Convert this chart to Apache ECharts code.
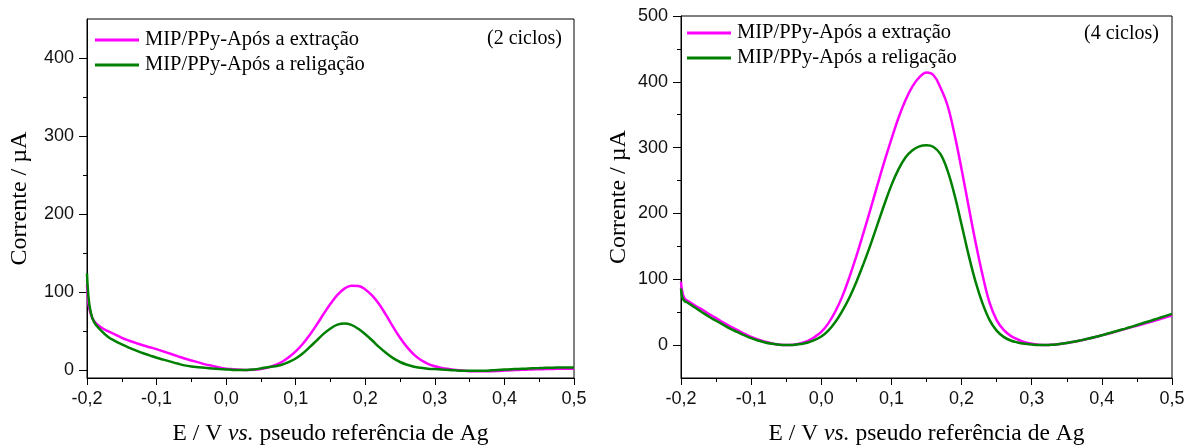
<!DOCTYPE html>
<html>
<head>
<meta charset="utf-8">
<title>Voltametria MIP/PPy</title>
<script src="https://cdn.jsdelivr.net/npm/echarts@6/dist/echarts.min.js"></script>
<style>
  html, body { margin: 0; padding: 0; background: #fff; }
  #chart { width: 1197px; height: 446px; }
</style>
</head>
<body>
<div id="chart"></div>
<script>
// Potential (V vs. Ag pseudo-reference), shared by every curve
const potential = [-0.2, -0.198, -0.195, -0.19, -0.18, -0.17, -0.16, -0.15, -0.14, -0.13, -0.12, -0.11, -0.10, -0.09, -0.08, -0.07, -0.06, -0.05, -0.04, -0.03, -0.02, -0.01,
  0.00, 0.01, 0.02, 0.03, 0.04, 0.05, 0.06, 0.07, 0.08, 0.09, 0.10, 0.11, 0.12, 0.13, 0.14, 0.15, 0.16, 0.17, 0.18, 0.19, 0.20, 0.21, 0.22, 0.23, 0.24, 0.25,
  0.26, 0.27, 0.28, 0.29, 0.30, 0.31, 0.32, 0.33, 0.34, 0.35, 0.36, 0.37, 0.38, 0.39, 0.40, 0.41, 0.42, 0.43, 0.44, 0.45, 0.46, 0.47, 0.48, 0.49, 0.50];

// Current (µA), 2 cycles
const extracao2 = [110, 86, 73, 63, 55, 50, 46, 41.5, 38, 35, 32, 29.5, 27, 24, 21, 18, 15, 12.5, 10, 7.5, 5.5, 3.5,
  2, 1.2, 0.6, 0.3, 0.5, 1.5, 3.3, 6.3, 10.5, 16.5, 24, 33.5, 45, 58, 72, 85, 96.5, 104.5, 108.3, 108, 103.5, 95.5, 84.5, 70.5, 55.5, 41.5,
  29.5, 20, 13, 8.2, 5, 2.9, 1.5, 0.4, -0.5, -1.2, -1.5, -1.5, -1.3, -1, -0.5, 0, 0.3, 0.6, 0.9, 1.2, 1.4, 1.6, 1.8, 1.9, 2];
const religacao2 = [124, 95, 76, 62, 51, 43, 37.5, 33, 29, 25.5, 22, 19, 16, 13.5, 11, 8.5, 6.2, 4.7, 3.8, 3, 2.3, 1.6,
  1, 0.4, 0.1, 0.2, 1, 2.3, 3.8, 5, 7, 10.5, 15, 21.5, 29.5, 38, 46.5, 53.5, 58.3, 59.8, 58, 53, 46, 38, 29.5, 22, 15.5, 10.5,
  7, 4.5, 3, 2, 1.4, 0.8, 0.3, -0.2, -0.6, -0.8, -0.8, -0.6, -0.2, 0.3, 0.8, 1.2, 1.6, 2, 2.4, 2.7, 3, 3.2, 3.4, 3.5, 3.5];

// Current (µA), 4 cycles
const extracao4 = [96, 80, 71, 67, 60, 54, 47, 41, 34.5, 28.5, 23, 17.5, 12.5, 8.5, 5, 2.5, 0.8, 0, 0.5, 2.5, 6, 12,
  20, 33, 51, 74, 103, 135, 170, 206, 243, 279, 313, 345, 372, 393, 407, 414, 410, 391, 364, 320, 267, 211, 156, 106, 64, 38,
  23, 14, 8.5, 4.5, 2, 0.5, 0, 0.6, 1.7, 3.2, 5, 7, 9.5, 12, 15, 17.5, 20.5, 23.5, 26.5, 29.5, 32.5, 35.5, 38.5, 42, 45];
const religacao4 = [86, 72, 67, 64, 57, 50, 43, 37, 31, 25, 20, 15, 10.5, 7, 4, 2, 0.6, 0, 0.3, 1.5, 3.5, 7.5,
  13, 22, 35, 52, 72, 96, 123, 152, 183, 214, 243, 267, 285, 296, 302, 303.5, 301, 290, 265, 228, 183, 137, 96, 63, 38, 22,
  12.5, 7, 4, 2, 0.8, 0, 0, 0.6, 1.7, 3.2, 5, 7.2, 9.6, 12.2, 15, 18, 21, 24, 27, 30.5, 34, 37, 40.5, 44, 47.5];

// Axis ticks
const xTicks = { min: -0.2, max: 0.5, step: 0.1 };
const yLabels2 = [0, 100, 200, 300, 400];
const yMinor2 = [50, 150, 250, 350];
const yLabels4 = [0, 100, 200, 300, 400, 500];
const yMinor4 = [50, 150, 250, 350, 450];

const seriesNames = ['MIP/PPy-Após a extração', 'MIP/PPy-Após a religação'];
const panelNotes = ['(2 ciclos)', '(4 ciclos)'];

const MAGENTA = '#ff00ff';
const GREEN = '#008000';
const SANS = 'Liberation Sans, Arial, sans-serif';
const SERIF = 'Liberation Serif, Times New Roman, serif';

const pairs = (ys) => potential.map((x, i) => [x, ys[i]]);
const fmtComma = (v) => {
  if (Math.abs(v) < 1e-9) v = 0;
  return v.toFixed(1).replace('.', ',');
};

const grids = [
  { left: 87, top: 19, width: 487, height: 359 },
  { left: 681, top: 16, width: 491, height: 362 }
];

function xAxisFor(gridIndex) {
  return {
    type: 'value', gridIndex,
    min: xTicks.min, max: xTicks.max, interval: xTicks.step,
    name: '{n|E / V }{i|vs.}{n| pseudo referência de Ag}',
    nameLocation: 'middle', nameGap: 44,
    nameTextStyle: {
      rich: {
        n: { fontFamily: SERIF, fontSize: 23.5, color: '#000' },
        i: { fontFamily: SERIF, fontSize: 23.5, fontStyle: 'italic', color: '#000' }
      }
    },
    axisLine: { show: true, onZero: false, lineStyle: { color: '#000', width: 1 } },
    axisTick: { show: true, inside: false, length: 7, lineStyle: { color: '#000', width: 1 } },
    minorTick: { show: true, splitNumber: 2, length: 4, lineStyle: { color: '#000', width: 1 } },
    axisLabel: { margin: 12, fontFamily: SANS, fontSize: 18, color: '#111', formatter: fmtComma,
      showMinLabel: true, showMaxLabel: true },
    splitLine: { show: false },
    minorSplitLine: { show: false }
  };
}

function yAxesFor(gridIndex, min, max, labels, minor, gap) {
  return [
    {
      type: 'value', gridIndex, min, max,
      name: 'Corrente / µA', nameLocation: 'middle', nameGap: gap,
      nameTextStyle: { fontFamily: SERIF, fontSize: 24, color: '#000' },
      axisLine: { show: true, onZero: false, lineStyle: { color: '#000', width: 1 } },
      axisTick: { show: true, inside: false, length: 8, customValues: labels, lineStyle: { color: '#000', width: 1 } },
      axisLabel: { margin: 13, fontFamily: SANS, fontSize: 18, color: '#111', customValues: labels },
      splitLine: { show: false }
    },
    {
      // half-step ticks, drawn shorter on the same left edge
      type: 'value', gridIndex, min, max, position: 'left',
      axisLine: { show: false, onZero: false },
      axisTick: { show: true, inside: false, length: 4, customValues: minor, lineStyle: { color: '#000', width: 1 } },
      axisLabel: { show: false },
      splitLine: { show: false }
    }
  ];
}

function curve(name, data, color, xAxisIndex, yAxisIndex) {
  return {
    type: 'line', name, data: pairs(data), xAxisIndex, yAxisIndex,
    showSymbol: false, symbol: 'none', smooth: 0.4, clip: true,
    lineStyle: { color, width: 2.5 }, itemStyle: { color },
    emphasis: { disabled: true }, animation: false
  };
}

function legendFor(left, top) {
  return {
    orient: 'vertical', left, top, padding: 0, itemGap: 3,
    itemWidth: 44, itemHeight: 3, icon: 'rect', selectedMode: false,
    data: seriesNames.map((n, i) => ({ name: n, itemStyle: { color: i === 0 ? MAGENTA : GREEN } })),
    textStyle: { fontFamily: SERIF, fontSize: 20.5, color: '#000', lineHeight: 22, padding: [0, 0, 0, 1] }
  };
}

const chart = echarts.init(document.getElementById('chart'), null, { renderer: 'canvas' });
chart.setOption({
  backgroundColor: '#fff',
  animation: false,
  grid: grids.map(g => Object.assign({ show: true, borderColor: '#000', borderWidth: 1,
    backgroundColor: 'transparent', containLabel: false, outerBoundsMode: 'none' }, g)),
  xAxis: [xAxisFor(0), xAxisFor(1)],
  yAxis: [
    ...yAxesFor(0, -10, 450, yLabels2, yMinor2, 55),
    ...yAxesFor(1, -50, 500, yLabels4, yMinor4, 50)
  ],
  legend: [legendFor(95, 29), legendFor(687, 22)],
  series: [
    curve(seriesNames[0], extracao2, MAGENTA, 0, 0),
    curve(seriesNames[1], religacao2, GREEN, 0, 0),
    curve(seriesNames[0], extracao4, MAGENTA, 1, 2),
    curve(seriesNames[1], religacao4, GREEN, 1, 2)
  ],
  graphic: [
    { type: 'text', right: 1197 - 562, top: 29, silent: true,
      style: { text: panelNotes[0], fontFamily: SERIF, fontSize: 20, fill: '#000' } },
    { type: 'text', right: 1197 - 1159, top: 24, silent: true,
      style: { text: panelNotes[1], fontFamily: SERIF, fontSize: 20, fill: '#000' } }
  ]
});
</script>
</body>
</html>
